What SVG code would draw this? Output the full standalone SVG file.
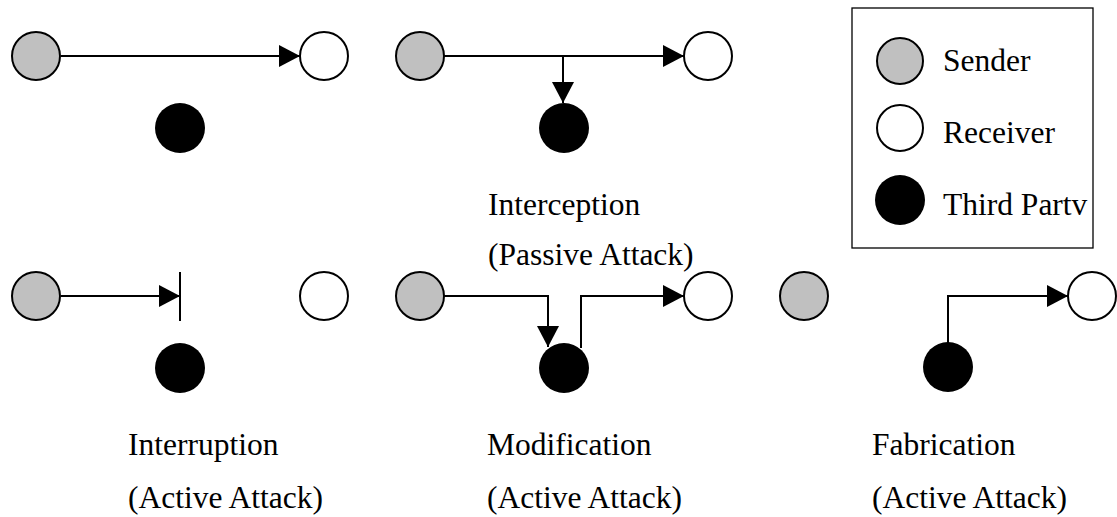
<svg xmlns="http://www.w3.org/2000/svg" width="1117" height="517" viewBox="0 0 1117 517">
<style>
.s{fill:#c0c0c0;stroke:#000;stroke-width:2}
.r{fill:#fff;stroke:#000;stroke-width:2}
.t{fill:#000;stroke:none}
.c{fill:none;stroke:#000;stroke-width:2}
text{font-family:"Liberation Serif","Times New Roman",serif;font-size:31.5px;fill:#000}
</style>
<defs>
<marker id="ah" markerUnits="userSpaceOnUse" markerWidth="22" markerHeight="24" refX="21" refY="12" orient="auto" viewBox="0 0 22 24">
<path d="M0,1 L21,12 L0,23 Z" fill="#000"/>
</marker>
</defs>
<rect width="1117" height="517" fill="#fff"/>
<g id="connectors">
<path class="c" d="M61,56 H300" marker-end="url(#ah)"/>
<path class="c" d="M444,56 H684" marker-end="url(#ah)"/>
<path class="c" d="M563,56 V103" marker-end="url(#ah)"/>
<path class="c" d="M61,296 H180" marker-end="url(#ah)"/>
<path class="c" d="M180,272 V321"/>
<path class="c" d="M444,296 H548 V347" marker-end="url(#ah)"/>
<path class="c" d="M581,348 V296 H684" marker-end="url(#ah)"/>
<path class="c" d="M948,343 V296 H1068" marker-end="url(#ah)"/>
</g>
<g id="interruption-free">
<circle class="s" cx="36" cy="56" r="24"/>
<circle class="r" cx="324" cy="56" r="24"/>
<circle class="t" cx="180" cy="128" r="25"/>
</g>
<g id="interception">
<circle class="s" cx="420" cy="56" r="24"/>
<circle class="r" cx="708" cy="56" r="24"/>
<circle class="t" cx="564" cy="128" r="25"/>
<text x="488" y="215">Interception</text>
<text x="488" y="265">(Passive Attack)</text>
</g>
<g id="legend">
<rect x="852" y="8" width="241" height="240" fill="none" stroke="#000" stroke-width="1.3"/>
<circle class="s" cx="900" cy="61" r="23"/>
<text x="943" y="71">Sender</text>
<circle class="r" cx="900" cy="128" r="23"/>
<text x="943" y="143">Receiver</text>
<circle class="t" cx="900" cy="200" r="25"/>
<text x="943" y="215">Third Partv</text>
</g>
<g id="interruption">
<circle class="s" cx="36" cy="296" r="24"/>
<circle class="r" cx="324" cy="296" r="24"/>
<circle class="t" cx="180" cy="368" r="25"/>
<text x="128" y="455">Interruption</text>
<text x="128" y="508">(Active Attack)</text>
</g>
<g id="modification">
<circle class="s" cx="420" cy="296" r="24"/>
<circle class="r" cx="708" cy="296" r="24"/>
<circle class="t" cx="564" cy="368" r="25"/>
<text x="487" y="455">Modification</text>
<text x="487" y="508">(Active Attack)</text>
</g>
<g id="fabrication">
<circle class="s" cx="804" cy="296" r="24"/>
<circle class="r" cx="1092" cy="296" r="24"/>
<circle class="t" cx="948" cy="367" r="25"/>
<text x="872" y="455">Fabrication</text>
<text x="872" y="508">(Active Attack)</text>
</g>
</svg>
